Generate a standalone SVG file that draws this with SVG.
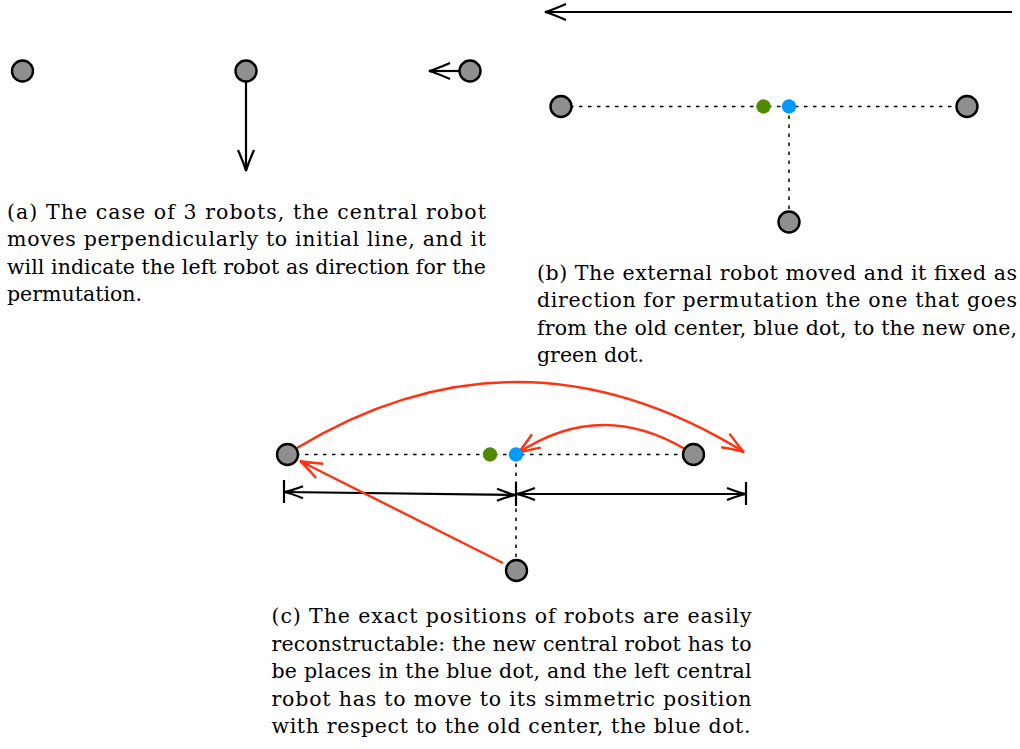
<svg xmlns="http://www.w3.org/2000/svg" width="1020" height="749" viewBox="0 0 1020 749">
<style>
.robot{fill:#8f8f8f;stroke:#000;stroke-width:2.4}
.blk{fill:none;stroke:#000;stroke-width:2.2}
.red{fill:none;stroke:#ff3311;stroke-width:2.4}
.dot{fill:none;stroke:#000;stroke-width:1.5;stroke-dasharray:3.5 5.5}
.cap{font-family:"DejaVu Serif","Liberation Serif",serif;font-size:20.5px;fill:#000}
</style>
<defs>
<marker id="ak" markerUnits="userSpaceOnUse" viewBox="-24 -12 28 24" markerWidth="28" markerHeight="24" refX="0" refY="0" orient="auto-start-reverse" overflow="visible">
<path d="M-21,-8 Q-6,-1.5 0,0 Q-6,1.5 -21,8" fill="none" stroke="#000" stroke-width="2.2"/>
</marker>
<marker id="ad" markerUnits="userSpaceOnUse" viewBox="-24 -12 28 24" markerWidth="28" markerHeight="24" refX="0" refY="0" orient="auto-start-reverse" overflow="visible">
<path d="M-19,-6 Q-6,-1 0,0 Q-6,1 -19,6" fill="none" stroke="#000" stroke-width="2.2"/>
</marker>
<marker id="ar" markerUnits="userSpaceOnUse" viewBox="-24 -12 28 24" markerWidth="28" markerHeight="24" refX="0" refY="0" orient="auto" overflow="visible">
<path d="M-22,-8 Q-6,-1.5 0,0 Q-6,1.5 -22,8" fill="none" stroke="#ff3311" stroke-width="2.4"/>
</marker>
</defs>

<g id="connectors">
<!-- panel a -->
<line class="blk" x1="246" y1="82" x2="246" y2="171" marker-end="url(#ak)"/>
<line class="blk" x1="459" y1="71" x2="429" y2="71" marker-end="url(#ak)"/>
<!-- panel b -->
<line class="blk" x1="1012" y1="12" x2="545" y2="12" marker-end="url(#ak)"/>
<line class="dot" x1="561" y1="106.5" x2="967" y2="106.5"/>
<line class="dot" x1="789" y1="106.5" x2="789" y2="222"/>
<!-- panel c -->
<line class="dot" x1="287" y1="454.5" x2="693" y2="454.5"/>
<line class="dot" x1="516" y1="454.5" x2="516" y2="570"/>
<line class="blk" x1="284" y1="480" x2="284" y2="503"/>
<line class="blk" x1="516" y1="482" x2="516" y2="506"/>
<line class="blk" x1="746" y1="482" x2="746" y2="505"/>
<line class="blk" x1="284" y1="492" x2="516" y2="495" marker-start="url(#ad)" marker-end="url(#ad)"/>
<line class="blk" x1="516" y1="494" x2="746" y2="494" marker-start="url(#ad)" marker-end="url(#ad)"/>
<path class="red" d="M297,448 Q520,314 744,452" marker-end="url(#ar)"/>
<path class="red" d="M685,449 Q600,399 518,453" marker-end="url(#ar)"/>
<line class="red" x1="503" y1="563" x2="300" y2="461" marker-end="url(#ar)"/>
</g>

<g id="panel-a-robots">
<circle id="a-left" class="robot" cx="22.5" cy="71" r="10.5"/>
<circle id="a-center" class="robot" cx="246" cy="71" r="10.5"/>
<circle id="a-right" class="robot" cx="470" cy="71" r="10.5"/>
</g>
<g id="panel-b-robots">
<circle id="b-left" class="robot" cx="561" cy="106.5" r="10.5"/>
<circle id="b-right" class="robot" cx="967" cy="106.5" r="10.5"/>
<circle id="b-bottom" class="robot" cx="789" cy="222" r="10.5"/>
<circle id="b-green" cx="763.5" cy="106.5" r="7.2" fill="#4f8a00"/>
<circle id="b-blue" cx="789" cy="106.5" r="7.2" fill="#0099ff"/>
</g>
<g id="panel-c-robots">
<circle id="c-left" class="robot" cx="287.5" cy="454.5" r="10.5"/>
<circle id="c-right" class="robot" cx="693.5" cy="454.5" r="10.5"/>
<circle id="c-bottom" class="robot" cx="516.5" cy="570.5" r="10.5"/>
<circle id="c-green" cx="490" cy="454.5" r="7.2" fill="#4f8a00"/>
<circle id="c-blue" cx="516" cy="454.5" r="7.2" fill="#0099ff"/>
</g>

<g id="caption-a" class="cap">
<text x="7" y="218.5" textLength="479" lengthAdjust="spacing">(a) The case of 3 robots, the central robot</text>
<text x="7" y="246" textLength="479" lengthAdjust="spacing">moves perpendicularly to initial line, and it</text>
<text x="7" y="273.5" textLength="479" lengthAdjust="spacing">will indicate the left robot as direction for the</text>
<text x="7" y="301">permutation.</text>
</g>
<g id="caption-b" class="cap">
<text x="537" y="279.5" textLength="480" lengthAdjust="spacing">(b) The external robot moved and it fixed as</text>
<text x="537" y="307" textLength="480" lengthAdjust="spacing">direction for permutation the one that goes</text>
<text x="537" y="334.5" textLength="480" lengthAdjust="spacing">from the old center, blue dot, to the new one,</text>
<text x="537" y="362">green dot.</text>
</g>
<g id="caption-c" class="cap">
<text x="271.5" y="623" textLength="480" lengthAdjust="spacing">(c) The exact positions of robots are easily</text>
<text x="271.5" y="650.5" textLength="480" lengthAdjust="spacing">reconstructable: the new central robot has to</text>
<text x="271.5" y="678" textLength="480" lengthAdjust="spacing">be places in the blue dot, and the left central</text>
<text x="271.5" y="705.5" textLength="480" lengthAdjust="spacing">robot has to move to its simmetric position</text>
<text x="271.5" y="733" textLength="479" lengthAdjust="spacing">with respect to the old center, the blue dot.</text>
</g>
</svg>
